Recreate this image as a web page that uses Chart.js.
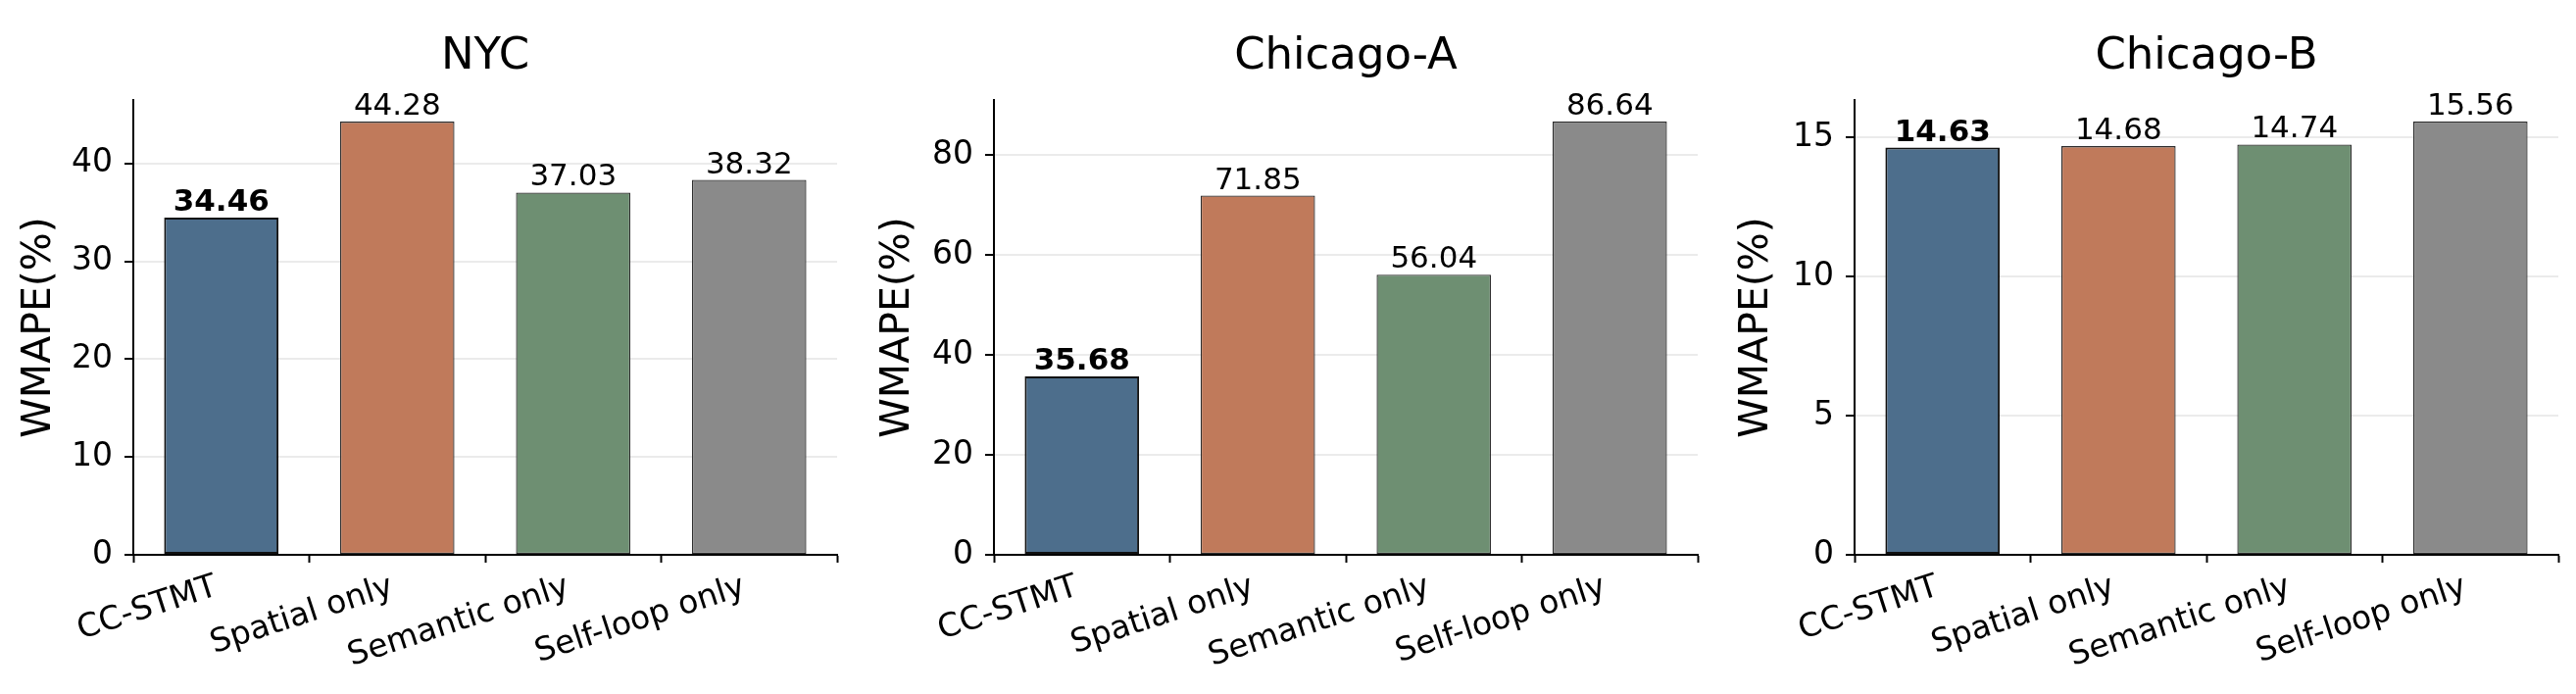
<!DOCTYPE html>
<html>
<head>
<meta charset="utf-8">
<title>WMAPE ablation</title>
<script src="https://cdn.jsdelivr.net/npm/chart.js@4.4.1/dist/chart.umd.min.js"></script>
<style>
  html, body { margin: 0; padding: 0; background: #ffffff; }
  #wrap { position: relative; width: 2628px; height: 708px; overflow: hidden; }
  #wrap canvas { position: absolute; top: 0; }
</style>
</head>
<body>
<div id="wrap">
  <canvas id="c0" width="876" height="708" style="left:0px"></canvas>
  <canvas id="c1" width="876" height="708" style="left:876px"></canvas>
  <canvas id="c2" width="876" height="708" style="left:1752px"></canvas>
</div>
<script>
/* ── Data ── */
var categories = ['CC-STMT', 'Spatial only', 'Semantic only', 'Self-loop only'];
var panelTitles = ['NYC', 'Chicago-A', 'Chicago-B'];
var nycValues = [34.46, 44.28, 37.03, 38.32];
var chicagoAValues = [35.68, 71.85, 56.04, 86.64];
var chicagoBValues = [14.63, 14.68, 14.74, 15.56];
var yTickSteps = [10, 20, 5];
var yAxisTitle = 'WMAPE(%)';

/* ── Style ── */
var barColors = ['#4d6e8c', '#c07a5b', '#6e8f72', '#8a8a8a'];
var FONT = "'DejaVu Sans', sans-serif";
var X_LABEL_SIZE = 33;
var X_LABEL_ANGLE = 18 * Math.PI / 180;

/* ── Title, value labels and rotated category labels ── */
var decorPlugin = {
  id: 'decor',
  afterDatasetsDraw: function (chart, args, opts) {
    var ctx = chart.ctx;
    var area = chart.chartArea;
    var meta = chart.getDatasetMeta(0);
    var values = chart.data.datasets[0].data;
    var best = values.indexOf(Math.min.apply(null, values));
    ctx.save();
    ctx.fillStyle = '#000';
    ctx.textAlign = 'center';
    ctx.textBaseline = 'alphabetic';
    meta.data.forEach(function (bar, i) {
      ctx.font = (i === best ? 'bold ' : '') + '31px ' + FONT;
      ctx.fillText(values[i].toFixed(2), bar.x, bar.y - 7);
    });
    ctx.font = '45px ' + FONT;
    ctx.fillText(opts.title, (area.left + area.right) / 2, 70);

    // category labels: rotated box's right edge on the tick, like ha='right'
    var xs = chart.scales.x;
    var h = X_LABEL_SIZE * 0.996, d = X_LABEL_SIZE * 0.236;
    ctx.font = X_LABEL_SIZE + 'px ' + FONT;
    ctx.textAlign = 'right';
    chart.data.labels.forEach(function (lab, i) {
      var tx = xs.getPixelForTick(i);
      var ty = xs.top + 8 + 8.5;
      ctx.save();
      ctx.translate(tx, ty + h * Math.cos(X_LABEL_ANGLE));
      ctx.rotate(-X_LABEL_ANGLE);
      ctx.fillText(lab, 0, -d);
      ctx.restore();
    });
    ctx.restore();
  }
};

function makePanel(idx, values) {
  var canvas = document.getElementById('c' + idx);
  var yWidth = 136 + 2 * idx;
  var rightPad = 22 - 2 * idx;
  var best = values.indexOf(Math.min.apply(null, values));
  return new Chart(canvas, {
    type: 'bar',
    data: {
      labels: categories,
      datasets: [{
        data: values,
        backgroundColor: barColors,
        borderColor: values.map(function (v, i) { return i === best ? '#111' : '#2e2e2e'; }),
        borderWidth: values.map(function (v, i) { return i === best ? 2 : 1.3; }),
        borderSkipped: false,
        barPercentage: 0.65,
        categoryPercentage: 1.0
      }]
    },
    options: {
      responsive: false,
      animation: false,
      devicePixelRatio: 1,
      layout: { padding: { top: 102, right: rightPad, left: 0, bottom: 0 } },
      plugins: {
        legend: { display: false },
        tooltip: { enabled: false },
        title: { display: false },
        decor: { title: panelTitles[idx] }
      },
      scales: {
        x: {
          offset: true,
          grid: {
            display: true,
            drawOnChartArea: false,
            drawTicks: true,
            tickLength: 8,
            tickColor: '#000',
            tickWidth: 2
          },
          border: { display: true, color: '#000', width: 2 },
          ticks: { display: false, autoSkip: false },
          afterFit: function (s) { s.height = 142; }
        },
        y: {
          min: 0,
          max: Math.max.apply(null, values) * 1.05,
          grid: {
            color: '#ebebeb',
            lineWidth: 2,
            drawTicks: true,
            tickLength: 9,
            tickColor: '#000',
            tickWidth: 2
          },
          border: { display: true, color: '#000', width: 2 },
          ticks: {
            stepSize: yTickSteps[idx],
            includeBounds: false,
            color: '#000',
            font: { family: FONT, size: 33 },
            padding: 12
          },
          title: {
            display: true,
            text: yAxisTitle,
            color: '#000',
            font: { family: FONT, size: 41 },
            padding: { top: 16, bottom: 0 }
          },
          afterFit: function (s) { s.width = yWidth; }
        }
      }
    },
    plugins: [decorPlugin]
  });
}

makePanel(0, nycValues);
makePanel(1, chicagoAValues);
makePanel(2, chicagoBValues);
</script>
</body>
</html>
